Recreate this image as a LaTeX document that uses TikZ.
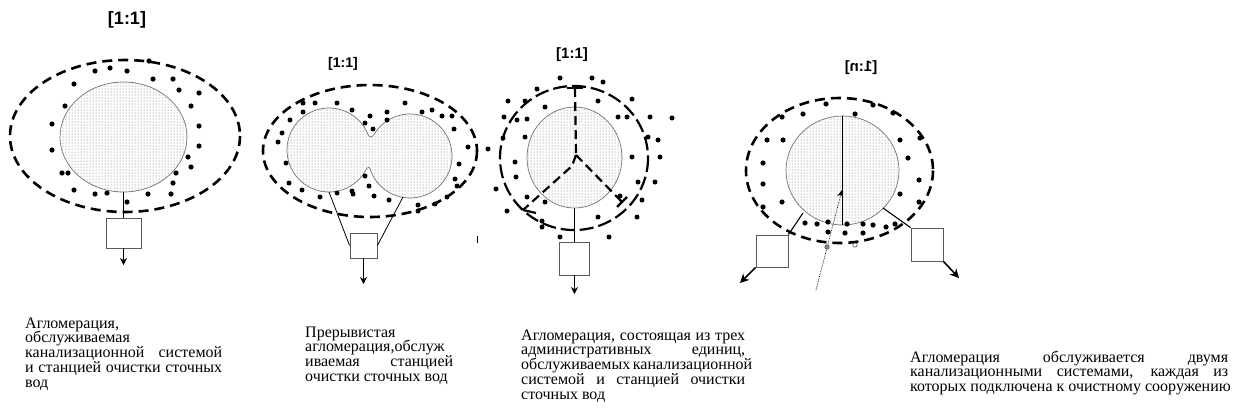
\documentclass[tikz,border=0pt]{standalone}
\usepackage{fontspec}
\setmainfont{Liberation Serif}
\newfontfamily\titlefont{Liberation Sans}
\usepackage{graphicx}
\usetikzlibrary{shapes.geometric,patterns,arrows.meta}
\begin{document}
\begin{tikzpicture}[x=1pt,y=-1pt,
  zonepaint/.style={draw=black!55, line width=0.7pt, pattern=dots, pattern color=black!60},
  zone/.style={ellipse, zonepaint, inner sep=0pt},
  bound/.style={draw=black, line width=2.6pt, dash pattern=on 10pt off 6pt},
  boundlong/.style={draw=black, line width=2.2pt, dash pattern=on 14pt off 5pt},
  divider/.style={draw=black, line width=2.2pt, dash pattern=on 9pt off 5pt},
  plant/.style={draw=black!65, line width=0.8pt, fill=white, inner sep=0pt},
  pipe/.style={draw=black, line width=0.8pt},
  outflow/.style={draw=black, line width=0.9pt, -{Stealth[length=7pt,width=7pt]}},
  outflowbig/.style={draw=black, line width=1.6pt, -{Stealth[length=9pt,width=9pt]}},
  hab/.style={fill=black},
  ttl/.style={inner sep=0pt},
  txt/.style={font=\fontsize{16}{17}\selectfont, anchor=base west, inner sep=0pt},
]
\useasboundingbox[fill=white] (0,0) rectangle (1236,416);

% ---------------- Panel 1 ----------------
\node[ttl, font=\titlefont\bfseries\fontsize{18}{18}\selectfont] (t1) at (127,20) {[1:1]};
\draw[bound] (125,136) ellipse [x radius=115, y radius=76];
\node[zone, minimum width=127pt, minimum height=110pt] (c1) at (123.5,137) {};
\foreach \p in {(149,61),(95,71),(110,68),(127,71),(153,79),(173,79),(74,84),(179,90),(199,93),
  (65,106),(191,106),(52,124),(199,126),(52,150),(199,146),(188,157),(191,167),(62,173),(68,173),
  (176,173),(173,183),(74,190),(95,194),(107,193),(127,202),(148,194),(171,194)}
  \fill[hab] \p circle[radius=2.6];
\node[plant, minimum width=35pt, minimum height=30pt] (b1) at (123.5,233) {};
\draw[pipe] (c1.south) -- (b1.north);
\coordinate (o1) at (123.5,265);
\draw[outflow] (b1.south) -- (o1);

% ---------------- Panel 2 ----------------
\node[ttl, font=\titlefont\bfseries\fontsize{14}{14}\selectfont] (t2) at (343,64) {[1:1]};
\draw[bound] (370,151) ellipse [x radius=107, y radius=66];
\path[zonepaint] (365.373,171) arc[start angle=30, end angle=338, radius=42]
  .. controls (369.3,137.5) and (371.8,137.8) .. (373.63,135)
  arc[start angle=210, end angle=518, radius=42]
  .. controls (370,166) and (367.5,166) .. cycle;
\foreach \p in {(303,103),(315,103),(337,103),(405,103),(303,112),(352,110),(422,112),(432,110),
  (290,120),(365,123),(370,116),(387,120),(387,112),(442,116),(452,116),(282,133),(454,129),
  (373,129),(278,142),(468,147),(286,163),(459,164),(365,176),(289,183),(369,186),(455,179),
  (457,186),(302,190),(337,193),(352,191),(353,194),(320,197),(374,196),(389,200),(418,205),
  (435,204),(418,211),(447,197)}
  \fill[hab] \p circle[radius=2.5];
\node[plant, minimum width=27pt, minimum height=25pt] (b2) at (363.5,245.5) {};
\coordinate (p2a) at (329,192);
\coordinate (p2b) at (403,197);
\draw[pipe] (p2a) -- (b2.west);
\draw[pipe] (p2b) -- (b2.east);
\coordinate (o2) at (363.5,284);
\draw[outflow] (b2.south) -- (o2);
\coordinate (m2a) at (477,236);
\coordinate (m2b) at (477,243);
\draw[pipe] (m2a) -- (m2b);

% ---------------- Panel 3 ----------------
\node[ttl, font=\titlefont\bfseries\fontsize{15}{15}\selectfont] (t3) at (572,55) {[1:1]};
\draw[boundlong] (574,158) ellipse [x radius=74, y radius=72];
\node[zone, minimum width=95pt, minimum height=101pt] (c3) at (574.5,157.5) {};
\coordinate (ctr3) at (576,155);
\coordinate (top3) at (575,88);
\coordinate (kink3) at (572,166);
\coordinate (ll3) at (523,210);
\coordinate (lr3) at (622,202);
\draw[divider] (top3) -- (ctr3);
\draw[divider] (ctr3) -- (kink3) -- (ll3);
\draw[divider] (ctr3) -- (lr3);
\coordinate (tb1) at (567,88); \coordinate (tb2) at (583,88);
\draw[line width=2.2pt] (tb1) -- (tb2);
\coordinate (lb1) at (523,210); \coordinate (lb2) at (536,213);
\draw[line width=2.2pt] (lb1) -- (lb2);
\coordinate (rb1) at (617,207); \coordinate (rb2) at (627,197);
\draw[line width=2.2pt] (rb1) -- (rb2);
\foreach \p in {(560,78),(592,78),(603,82),(537,89),(508,101),(525,101),(545,107),(598,101),
  (632,99),(504,117),(517,120),(527,119),(618,117),(627,117),(650,117),(672,118),(503,138),
  (525,137),(648,137),(658,140),(488,149),(515,162),(632,157),(660,157),(516,177),(496,189),
  (638,182),(655,182),(527,197),(545,202),(620,196),(642,200),(507,211),(542,221),(542,227),
  (598,217),(637,217),(560,237),(609,237)}
  \fill[hab] \p circle[radius=2.5];
\node[plant, minimum width=30pt, minimum height=33pt] (b3) at (574.5,258.5) {};
\draw[pipe] (c3.south) -- (b3.north);
\coordinate (o3) at (574.5,294);
\draw[outflow] (b3.south) -- (o3);

% ---------------- Panel 4 ----------------
\node[ttl, font=\titlefont\bfseries\fontsize{15}{15}\selectfont] (t4) at (861,68) {\reflectbox{[1:n]}};
\draw[bound] (839.5,170.5) ellipse [x radius=93.5, y radius=72.5];
\node[zone, minimum width=113pt, minimum height=109pt] (c4) at (842.5,170.5) {};
\draw[line width=1.6pt] (c4.north) -- (c4.south);
\foreach \p in {(826,104),(873,105),(803,114),(782,117),(855,114),(893,113),(767,140),(783,140),
  (900,140),(920,138),(763,163),(908,158),(763,184),(919,180),(782,202),(900,194),(919,202),
  (763,207),(805,223),(817,224),(828,222),(847,224),(863,224),(873,225),(886,227),(895,224),
  (828,232),(845,233),(863,233)}
  \fill[hab] \p circle[radius=2.6];
\node[plant, minimum width=32pt, minimum height=32pt] (b4l) at (772,251) {};
\node[plant, minimum width=32pt, minimum height=33pt] (b4r) at (927,244.5) {};
\coordinate (c4l) at (803,213);
\coordinate (c4r) at (883,208);
\draw[line width=1.1pt] (c4l) -- (b4l.north east);
\draw[line width=1.1pt] (c4r) -- (b4r.north west);
\coordinate (o4l) at (740,283);
\coordinate (o4r) at (959,278);
\draw[outflowbig] (b4l.south west) -- (o4l);
\draw[outflowbig] (b4r.south east) -- (o4r);
\coordinate (s4) at (816,290);
\coordinate (h4) at (842,190);
\draw[line width=0.7pt, densely dotted, -{Stealth[length=7pt,width=6pt]}] (s4) -- (h4);
\filldraw[fill=black!45, draw=black!70, line width=0.6pt] (827,247) circle[radius=2.2];
\draw[black!70, line width=0.6pt] (855,245) circle[radius=2.2];

% ---------------- Captions ----------------
\node[txt] (a1) at (25,328) {Агломерация,};
\node[txt] (a2) at (25,342.8) {обслуживаемая};
\node[txt] (a3) at (25,357.6) {\makebox[197pt][s]{канализационной системой}};
\node[txt] (a4) at (25,372.4) {\makebox[197pt][s]{и станцией очистки сточных}};
\node[txt] (a5) at (25,387.2) {вод};

\node[txt] (d1) at (305,337) {Прерывистая};
\node[txt] (d2) at (305,351.8) {агломерация,обслуж};
\node[txt] (d3) at (305,366.6) {\makebox[148pt][s]{иваемая станцией}};
\node[txt] (d4) at (305,381.4) {очистки сточных вод};

\node[txt] (e1) at (521,340) {\makebox[224pt][s]{Агломерация, состоящая из трех}};
\node[txt] (e2) at (521,354.8) {\makebox[224pt][s]{административных единиц,}};
\node[txt] (e3) at (521,369.6) {\makebox[224pt][s]{обслуживаемых канализационной}};
\node[txt] (e4) at (521,384.4) {\makebox[224pt][s]{системой и станцией очистки}};
\node[txt] (e5) at (521,399.2) {сточных вод};

\node[txt] (f1) at (910,362) {\makebox[318pt][s]{Агломерация обслуживается двумя}};
\node[txt] (f2) at (910,376.8) {\makebox[318pt][s]{канализационными системами, каждая из}};
\node[txt] (f3) at (910,391.6) {которых подключена к очистному сооружению};
\end{tikzpicture}
\end{document}
